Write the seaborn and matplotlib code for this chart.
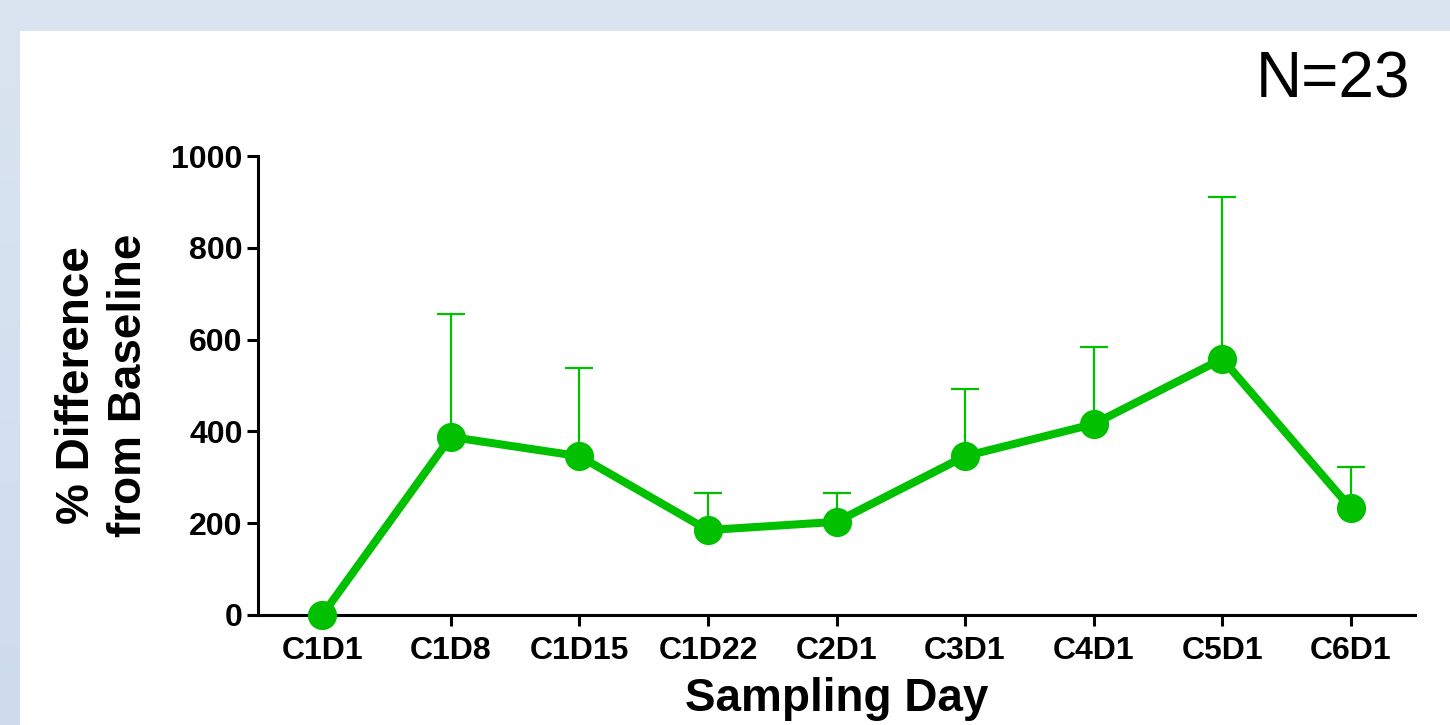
import numpy as np
import pandas as pd
import matplotlib
matplotlib.use("Agg")
import matplotlib.pyplot as plt
from matplotlib.patches import Rectangle
from matplotlib.colors import LinearSegmentedColormap
import seaborn as sns

# Sampling days and mean % change from baseline, with upper SD
days = ["C1D1", "C1D8", "C1D15", "C1D22", "C2D1", "C3D1", "C4D1", "C5D1", "C6D1"]
mean_pct = [0, 388, 346, 185, 203, 346, 416, 558, 233]
upper_err = [0, 268, 192, 81, 63, 146, 168, 353, 89]
y_ticks = [0, 200, 400, 600, 800, 1000]

GREEN = "#00c000"

sns.set_theme(style="white")
plt.rcParams["font.family"] = ["Liberation Sans", "DejaVu Sans"]
plt.rcParams["text.color"] = "black"
plt.rcParams["axes.labelcolor"] = "black"

fig = plt.figure(figsize=(14.5, 7.25), dpi=100)

# slide background: pale blue with a soft vertical gradient, white content panel
bg = fig.add_axes([0, 0, 1, 1], zorder=-10)
grad = np.linspace(0, 1, 256).reshape(-1, 1)
cmap = LinearSegmentedColormap.from_list("bg", ["#dbe5f1", "#cfdcee"])
bg.imshow(grad, aspect="auto", cmap=cmap, extent=[0, 1, 0, 1], origin="upper")
bg.add_patch(Rectangle((20 / 1450, 0), 1, 1 - 31 / 725, transform=bg.transAxes,
                       facecolor="white", edgecolor="none"))
bg.set_xlim(0, 1)
bg.set_ylim(0, 1)
bg.axis("off")

ax = fig.add_axes([258 / 1450, 1 - 615 / 725, (1415 - 258) / 1450, (615 - 156) / 725])
ax.set_facecolor("none")

df = pd.DataFrame({"day": days, "pct": mean_pct, "pos": np.arange(len(days))})

# upper-only error bars
ax.errorbar(df["pos"], df["pct"], yerr=[np.zeros(len(days)), upper_err],
            fmt="none", ecolor=GREEN, elinewidth=1.6, capsize=10, capthick=1.6, zorder=2)

sns.lineplot(data=df, x="pos", y="pct", ax=ax, color=GREEN, linewidth=5.8,
             marker="o", markersize=21, markeredgewidth=0, zorder=3, clip_on=False)

ax.set_xlim(-0.5, 8.5)
ax.set_ylim(0, 1000)
ax.set_xticks(range(len(days)))
ax.set_xticklabels(days)
ax.set_yticks(y_ticks)
ax.set_yticklabels([str(v) for v in y_ticks])

for lab in ax.get_xticklabels() + ax.get_yticklabels():
    lab.set_fontweight("bold")
    lab.set_fontsize(23)
    lab.set_color("black")

ax.tick_params(axis="both", which="major", direction="out", length=8, width=2.2,
               color="black", bottom=True, left=True)
ax.tick_params(axis="x", pad=7)
ax.tick_params(axis="y", pad=3)

sns.despine(ax=ax)
for s in ("left", "bottom"):
    ax.spines[s].set_linewidth(2.2)
    ax.spines[s].set_color("black")

ax.set_xlabel("Sampling Day", fontsize=33, fontweight="bold", labelpad=8, color="black")
ax.set_ylabel("% Difference\nfrom Baseline", fontsize=33, fontweight="bold",
              labelpad=15, linespacing=1.22, color="black")

fig.text(1410 / 1450, 1 - 80 / 725, "N=23", fontsize=46, ha="right", va="center",
         color="black")

fig.savefig("out.png", dpi=100)
